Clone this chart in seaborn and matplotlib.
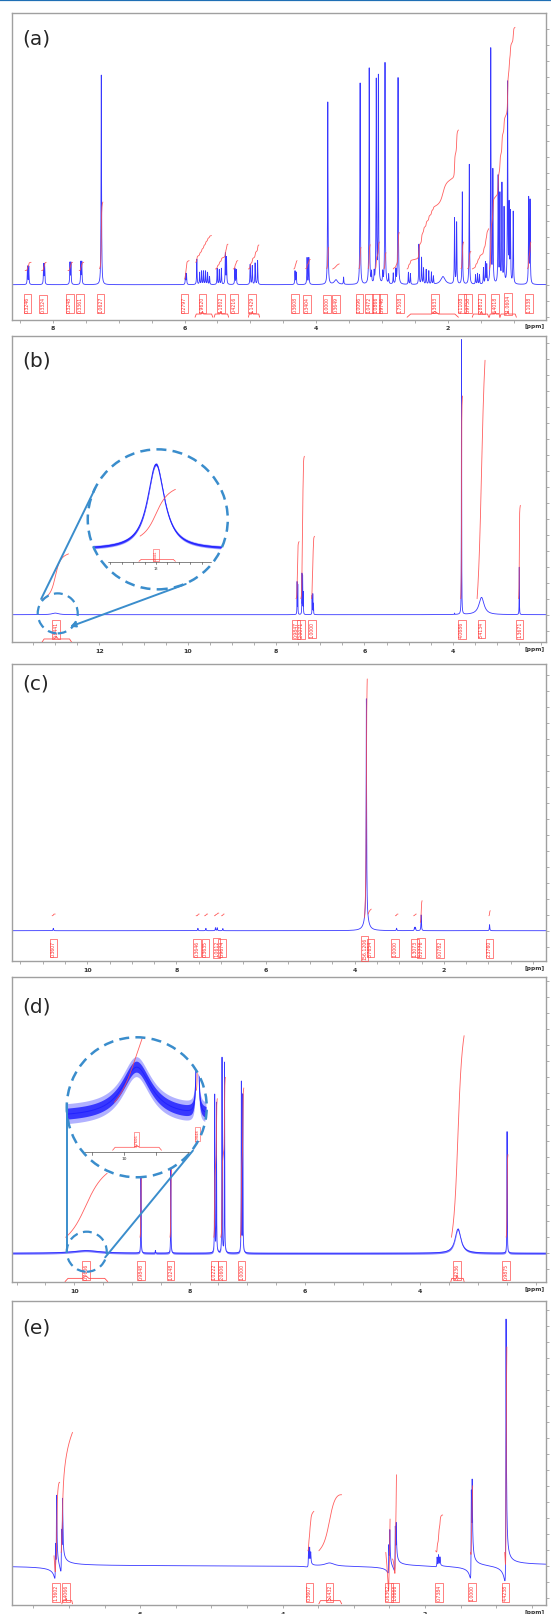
import numpy as np
import matplotlib
matplotlib.use('Agg')
import matplotlib.pyplot as plt
import seaborn as sns
from matplotlib.patches import Circle, Ellipse, FancyArrowPatch
from matplotlib.lines import Line2D
from matplotlib.ticker import FixedLocator, MultipleLocator

# ---------------- data ----------------
# (a)
a_ppm = [8.385, 8.365, 8.140, 8.125, 7.740, 7.725, 7.575, 7.560, 7.264,
         5.985, 5.970, 5.813, 5.770, 5.740, 5.710, 5.680, 5.650, 5.620,
         5.504, 5.472, 5.440, 5.380, 5.362, 5.235, 5.215,
         5.003, 4.971, 4.928, 4.890, 4.322, 4.305, 4.139, 4.112,
         3.824, 3.700, 3.584, 3.333, 3.195, 3.160, 3.120, 3.088, 3.056, 2.990, 2.955, 2.900,
         2.830, 2.790, 2.757, 2.600, 2.570, 2.440, 2.400, 2.370, 2.330, 2.290, 2.250, 2.220, 2.075,
         1.899, 1.867, 1.781, 1.675, 1.580, 1.550, 1.520, 1.460, 1.430, 1.410,
         1.349, 1.317, 1.237, 1.210, 1.179, 1.147, 1.093, 1.070, 1.051, 1.008, 0.773, 0.752]
a_h = [0.068, 0.068, 0.075, 0.075, 0.080, 0.080, 0.083, 0.083, 0.786,
       0.040, 0.040, 0.095, 0.045, 0.050, 0.050, 0.050, 0.045, 0.030,
       0.060, 0.055, 0.060, 0.115, 0.100, 0.060, 0.055,
       0.075, 0.070, 0.080, 0.090, 0.050, 0.045, 0.100, 0.100,
       0.684, 0.018, 0.027, 0.755, 0.810, 0.040, 0.040, 0.760, 0.775, 0.040, 0.830, 0.035,
       0.040, 0.050, 0.775, 0.045, 0.040, 0.150, 0.100, 0.060, 0.055, 0.050, 0.045, 0.030, 0.030,
       0.246, 0.230, 0.346, 0.450, 0.035, 0.040, 0.035, 0.060, 0.080, 0.070,
       0.880, 0.420, 0.400, 0.330, 0.370, 0.280, 0.750, 0.280, 0.260, 0.270, 0.320, 0.310]
a_broad = {3.700: 0.03, 2.075: 0.04}
a_int = [(8.42, 8.33, 0.053, 0.084), (8.17, 8.10, 0.053, 0.084), (7.77, 7.70, 0.053, 0.084),
         (7.60, 7.53, 0.053, 0.084), (7.29, 7.24, 0.06, 0.31), (6.00, 5.93, 0.021, 0.09),
         (5.83, 5.59, 0.084, 0.184), (5.53, 5.34, 0.059, 0.152), (5.26, 5.19, 0.059, 0.09),
         (5.03, 4.87, 0.059, 0.149), (4.34, 4.29, 0.059, 0.09), (4.16, 4.09, 0.06, 0.095),
         (3.84, 3.81, 0.06, 0.14), (3.75, 3.65, 0.059, 0.078), (3.35, 3.32, 0.06, 0.14),
         (3.21, 3.18, 0.06, 0.15), (3.10, 3.04, 0.06, 0.16), (2.97, 2.94, 0.06, 0.12),
         (2.83, 2.74, 0.059, 0.196), (2.62, 1.84, 0.059, 0.58), (1.80, 1.76, 0.06, 0.16),
         (1.70, 1.65, 0.06, 0.125), (1.63, 1.38, 0.059, 0.21), (1.37, 0.98, 0.059, 0.965),
         (0.79, 0.74, 0.06, 0.16)]
a_lab_ppm = [8.384, 8.144, 7.744, 7.584, 7.275, 6.00, 5.728, 5.45, 5.248, 4.97, 4.32, 4.139, 3.84,
             3.70, 3.344, 3.195, 3.088, 2.99, 2.73, 2.197, 1.79, 1.696, 1.49, 1.28, 1.09, 0.77]
a_lab_txt = ['0.3246', '0.3324', '0.3248', '0.3361', '1.0627', '0.2797', '1.9620', '1.1802', '0.4216',
             '1.1429', '0.3608', '0.3404', '1.0000', '0.3649', '1.0096', '1.0472', '1.0866', '0.9746',
             '1.7508', '6.3633', '4.1108', '0.9758', '2.8812', '6.4018', '11.0604', '1.1038']
a_brace = {'1.9620': (5.84, 5.57), '1.1802': (5.55, 5.33), '1.1429': (5.03, 4.86),
           '6.3633': (2.62, 1.84), '2.8812': (1.63, 1.38), '6.4018': (1.37, 1.21),
           '11.0604': (1.21, 0.96)}
a_xticks = [8, 6, 4, 2]

# (b)
b_ppm = [13.00, 7.525, 7.510, 7.415, 7.400, 7.385, 7.185, 7.170, 7.155, 3.960, 3.803, 3.350, 2.495]
b_h = [0.006, 0.120, 0.110, 0.150, 0.140, 0.080, 0.070, 0.075, 0.040, 0.005, 1.030, 0.065, 0.178]
b_broad = {13.00: 0.09, 3.350: 0.07}
b_int = [(13.30, 12.70, 0.059, 0.228), (7.55, 7.48, 0.06, 0.274), (7.44, 7.36, 0.06, 0.594),
         (7.20, 7.13, 0.06, 0.294), (3.82, 3.78, 0.06, 0.82), (3.45, 3.27, 0.06, 0.954),
         (2.51, 2.47, 0.06, 0.41)]
b_lab_ppm = [12.98, 7.55, 7.44, 7.19, 3.80, 3.35, 2.49]
b_lab_txt = ['0.8441', '0.9847', '2.0071', '1.0000', '4.0686', '3.4134', '1.3671']
b_brace = {'0.8441': (13.30, 12.63)}
b_xticks = [12, 10, 8, 6, 4]

# (c)
c_ppm = [10.764, 7.52, 7.34, 7.126, 7.087, 6.96, 3.74, 3.741, 3.063, 2.66, 2.64, 2.51, 0.976]
c_h = [0.009, 0.009, 0.009, 0.011, 0.011, 0.008, 0.81, 0.06, 0.009, 0.012, 0.012, 0.059, 0.0225]
c_broad = {3.741: 0.05}
c_int = [(10.79, 10.72, 0.056, 0.0625), (7.56, 7.49, 0.056, 0.0625), (7.37, 7.30, 0.056, 0.0625),
         (7.15, 7.05, 0.056, 0.066), (6.99, 6.93, 0.056, 0.0625), (3.78, 3.72, 0.05, 0.944),
         (3.70, 3.63, 0.0625, 0.081), (3.09, 3.03, 0.056, 0.0625), (2.68, 2.62, 0.056, 0.0625),
         (2.53, 2.49, 0.031, 0.1125), (0.99, 0.96, 0.056, 0.075)]
c_lab_ppm = [10.76, 7.54, 7.35, 7.10, 6.98, 3.78, 3.65, 3.09, 2.65, 2.52, 2.08, 0.98]
c_lab_txt = ['0.3607', '0.3646', '0.3635', '1.0612', '0.9674', '156.1206', '3.7654', '1.0000',
             '1.3073', '8.2776', '0.0782', '2.3760']
c_xticks = [10, 8, 6, 4, 2]

# (d)
d_ppm = [9.80, 8.844, 8.594, 8.326, 7.565, 7.535, 7.438, 7.395, 7.103, 7.078, 3.347, 2.495]
d_h = [0.010, 0.3225, 0.010, 0.3225, 0.591, 0.560, 0.731, 0.714, 0.6375, 0.589, 0.091, 0.456]
d_broad = {9.80: 0.28, 3.347: 0.06}
d_int = [(10.15, 9.43, 0.06, 0.30), (8.86, 8.83, 0.06, 0.32), (8.34, 8.31, 0.06, 0.32),
         (7.58, 7.52, 0.06, 0.58), (7.46, 7.38, 0.06, 0.66), (7.12, 7.06, 0.06, 0.62),
         (3.46, 3.24, 0.06, 0.816), (2.51, 2.48, 0.06, 0.37)]
d_lab_ppm = [9.80, 8.84, 8.33, 7.57, 7.44, 7.10, 3.36, 2.51]
d_lab_txt = ['0.7606', '0.9848', '1.0248', '1.0222', '2.0606', '1.0000', '3.4236', '0.9875']
d_brace = {'0.7606': (10.16, 9.42), '3.4236': (3.47, 3.24)}
d_xticks = [10, 8, 6, 4]

# (e)
e_ppm = [7.19, 7.175, 7.105, 7.092, 3.635, 3.62, 3.605, 3.34, 2.508, 2.495, 2.418, 2.405,
         1.83, 1.81, 1.79, 1.35, 1.338, 0.862]
e_h = [0.11, 0.22, 0.13, 0.18, 0.07, 0.06, 0.04, 0.012, 0.09, 0.11, 0.14, 0.11,
       0.035, 0.04, 0.03, 0.28, 0.23, 0.86]
e_disp = [0.8, 0.8, 0.8, 0.8, 0.3, 0.3, 0.3, 0.0, 0.7, 0.7, 0.7, 0.7,
          0.3, 0.3, 0.3, 0.65, 0.65, 0.55]
e_broad = {3.34: 0.08}
e_int = [(7.21, 7.13, 0.0375, 0.3125), (7.11, 6.95, 0.05, 0.5), (3.645, 3.56, 0.056, 0.204),
         (3.49, 3.17, 0.056, 0.266), (2.55, 2.49, 0.05, 0.175), (2.46, 2.40, 0.025, 0.341),
         (1.85, 1.75, 0.056, 0.19), (1.36, 1.33, 0.05, 0.3), (0.88, 0.85, 0.05, 0.82)]
e_lab_ppm = [7.18, 7.04, 3.62, 3.34, 2.51, 2.42, 1.80, 1.34, 0.87]
e_lab_txt = ['1.3602', '2.4066', '0.3607', '1.1432', '0.6362', '1.0666', '0.7384', '1.0000', '4.4238']
e_brace = {'2.4066': (7.10, 6.95), '1.1432': (3.49, 3.17)}
e_xticks = [6, 4, 2]

# ---------------- style ----------------
sns.set_style('white')
plt.rcParams['font.family'] = ['DejaVu Sans']

W, H = 551, 1615
BLUE = '#2222ff'
RED = '#ff4d4d'
RING = '#3a8dcc'
FRAME = '#a0a0a0'
UNIT = 266.7          # pixels per intensity unit
LEFT, RIGHT = 12, 546

fig = plt.figure(figsize=(W / 100, H / 100), dpi=100)
fig.add_artist(Line2D([0, 1], [1 - 0.8 / H] * 2, color='#1f6fb5', lw=1.6))


def spectrum(x, ppm, h, broad, disp=None, wdef=0.004):
    y = np.zeros_like(x)
    if disp is None:
        disp = [0.0] * len(ppm)
    for p, a, k in zip(ppm, h, disp):
        g = broad.get(p, wdef)
        u = (x - p) / g
        y += a * (1 - k * u) / (1 + u * u)
    return y


def integral(ax, x, y, p0, p1, y0, y1):
    m = (x <= p0) & (x >= p1)
    xs, ys = x[m], y[m]
    c = np.concatenate([[0.0], np.cumsum(0.5 * (ys[1:] + ys[:-1]))])
    c = c / c[-1]
    ln, = ax.plot(xs, y0 + (y1 - y0) * c, color=RED, lw=0.6, alpha=0.9, zorder=3)
    return ln


def labels(ax, lab_ppm, lab_txt, braces, yl, yb, fs=3.3):
    for p, t in zip(lab_ppm, lab_txt):
        ax.text(p, yl, t, rotation=90, fontsize=fs, color='#ff2a2a', ha='center', va='center',
                bbox=dict(boxstyle='square,pad=0.3', fc='none', ec=RED, lw=0.5), zorder=4)
        if t in braces:
            b0, b1 = braces[t]
            e = (b0 - b1) * 0.07
            ax.plot([b0, b0 - e, p + e, p, p - e, b1 + e, b1],
                    [yb - 0.012, yb, yb, yb + 0.01, yb, yb, yb - 0.012],
                    color=RED, lw=0.6, zorder=4)


def panel(top, bottom, base, xlim, xticks, ppm, h, broad, letter, ly,
          disp=None, wdef=0.004, noise=0.0):
    ax = fig.add_axes([LEFT / W, 1 - bottom / H, (RIGHT - LEFT) / W, (bottom - top) / H])
    x = np.linspace(xlim[0], xlim[1], 40000)
    y = spectrum(x, ppm, h, broad, disp, wdef)
    if noise:
        ax.fill_between(x, y - noise, y + noise, color=BLUE, alpha=0.6, lw=0)
    sns.lineplot(x=x, y=y, ax=ax, color=BLUE, lw=0.6, alpha=0.9, estimator=None, sort=False)
    ax.set_xlim(*xlim)
    ax.set_ylim((base - bottom) / UNIT, (base - top) / UNIT)
    ax.set_xlabel('')
    ax.set_ylabel('')
    for s in ax.spines.values():
        s.set_color(FRAME)
        s.set_linewidth(1.0)
    ax.xaxis.set_major_locator(FixedLocator(xticks))
    ax.xaxis.set_minor_locator(MultipleLocator(0.5))
    ax.tick_params(axis='x', which='both', bottom=True, direction='out', length=2.5, width=0.6,
                   color=FRAME, labelsize=4.5, pad=1.5, labelcolor='#333333')
    ax.yaxis.set_major_locator(MultipleLocator(0.06))
    ax.tick_params(axis='y', which='major', left=False, right=True, labelleft=False,
                   labelright=False, direction='out', length=2, width=0.6, color=FRAME)
    for t in ax.get_xticklabels():
        t.set_fontweight('bold')
    ax.text(0.998, -0.012, '[ppm]', transform=ax.transAxes, ha='right', va='top',
            fontsize=4.2, fontweight='bold', color='#333333')
    ax.text(0.02, ly, letter, transform=ax.transAxes, fontsize=14.5, ha='left', va='center')
    return ax, x, y


def to_fig(ax, px, py):
    return fig.transFigure.inverted().transform(ax.transData.transform((px, py)))


def small_ring(ax, cx, cy, r):
    fx, fy = to_fig(ax, cx, cy)
    fig.add_artist(Ellipse((fx, fy), 2 * r / W, 2 * r / H, transform=fig.transFigure,
                           fill=False, ec=RING, lw=1.6, ls=(0, (4, 2.5))))


def connect(ax, p0, p1, arrow=False):
    f0 = to_fig(ax, *p0)
    f1 = to_fig(ax, *p1)
    if arrow:
        fig.add_artist(FancyArrowPatch(f0, f1, transform=fig.transFigure, arrowstyle='-|>',
                                       mutation_scale=8, color=RING, lw=1.4,
                                       shrinkA=0, shrinkB=0))
    else:
        fig.add_artist(Line2D([f0[0], f1[0]], [f0[1], f1[1]], color=RING, lw=1.4))


def inset(ax, cx, cy, r, xc, s, base_off, top_off, hh, ppm, h, broad, noise_px):
    fx, fy = to_fig(ax, cx, cy)
    iax = fig.add_axes([fx - r / W, fy - r / H, 2 * r / W, 2 * r / H])
    iax.set_axis_off()
    iax.patch.set_alpha(0)
    u = hh / (top_off - base_off)
    xl = (xc + r * s, xc - r * s)
    iax.set_xlim(*xl)
    iax.set_ylim(-(r + base_off) * u, (r - base_off) * u)
    iax.add_patch(Circle((0.5, 0.5), 0.5, transform=iax.transAxes, fc='white', ec='none',
                         zorder=0))
    clip = Circle((0.5, 0.5), 0.5, transform=iax.transAxes)
    xi = np.linspace(xl[0], xl[1], 6000)
    yi = spectrum(xi, ppm, h, broad)
    # noisy trace drawn as a soft outer band and a denser core band
    outer = iax.fill_between(xi, yi - noise_px * u, yi + noise_px * u, color=BLUE, alpha=0.35, lw=0)
    core = iax.fill_between(xi, yi - 0.55 * noise_px * u, yi + 0.55 * noise_px * u, color=BLUE,
                            alpha=0.85, lw=0)
    outer.set_clip_path(clip)
    core.set_clip_path(clip)
    ln, = iax.plot(xi, yi, color=BLUE, lw=0.7)
    ln.set_clip_path(clip)
    iax.add_patch(Circle((0.5, 0.5), 0.5, transform=iax.transAxes, fill=False, ec=RING, lw=1.8,
                         ls=(0, (4, 2.5)), clip_on=False, zorder=6))
    return iax, xi, yi, u, clip


# ---------------- (a) ----------------
ax, x, y = panel(14, 320.5, 285.7, (8.62, 0.51), a_xticks, a_ppm, a_h, a_broad, '(a)', 0.918)
for it in a_int:
    integral(ax, x, y, *it)
labels(ax, a_lab_ppm, a_lab_txt, a_brace, -0.072, -0.11)

# ---------------- (b) ----------------
ax, x, y = panel(337, 643, 615.7, (13.98, 1.89), b_xticks, b_ppm, b_h, b_broad, '(b)', 0.92,
                 wdef=0.003)
for it in b_int:
    integral(ax, x, y, *it)
labels(ax, b_lab_ppm, b_lab_txt, b_brace, -0.054, -0.091)
small_ring(ax, 12.945, 0.005, 20)
iax, xi, yi, u, clip = inset(ax, 10.68, 0.3575, 70, 12.985, 0.00877, -30, 55, 0.006,
                             b_ppm, b_h, b_broad, 1.8)
integral(iax, xi, yi, 13.14, 12.83, 0.156 * 0.006, 0.706 * 0.006).set_clip_path(clip)
iax.plot([13.42, 12.52], [-12.3 * u] * 2, color='#555555', lw=0.5)
for tk in [13.4, 13.3, 13.2, 13.1, 13.0, 12.9, 12.8, 12.7, 12.6]:
    iax.plot([tk, tk], [-12.3 * u, -14.8 * u], color='#555555', lw=0.5)
iax.text(13.0, -17 * u, '13', fontsize=2.6, ha='center', va='top', color='#333333')
iax.plot([13.15, 13.13, 13.0, 12.85, 12.83], [-12 * u, -10 * u, -10 * u, -10 * u, -12 * u],
         color=RED, lw=0.5)
iax.text(13.0, -5.5 * u, '0.8441', rotation=90, fontsize=2.2, color='#ff2a2a', ha='center',
         va='center', bbox=dict(boxstyle='square,pad=0.2', fc='none', ec=RED, lw=0.4))
connect(ax, (13.32, 0.059), (12.095, 0.474))
connect(ax, (10.046, 0.115), (12.667, -0.045), arrow=True)

# ---------------- (c) ----------------
ax, x, y = panel(665, 962, 931.7, (11.69, -0.29), c_xticks, c_ppm, c_h, c_broad, '(c)', 0.935,
                 wdef=0.006)
for it in c_int:
    integral(ax, x, y, *it)
labels(ax, c_lab_ppm, c_lab_txt, {}, -0.065, -0.1)

# ---------------- (d) ----------------
ax, x, y = panel(978, 1283, 1254.3, (11.08, 1.82), d_xticks, d_ppm, d_h, d_broad, '(d)', 0.906,
                 wdef=0.003, noise=0.004)
for it in d_int:
    integral(ax, x, y, *it)
labels(ax, d_lab_ppm, d_lab_txt, d_brace, -0.065, -0.094)
small_ring(ax, 9.784, 0.006, 20)
iax, xi, yi, u, clip = inset(ax, 8.917, 0.5475, 70, 9.80, 0.01574, -10, 40, 0.010,
                             d_ppm, d_h, d_broad, 10)
integral(iax, xi, yi, 10.15, 9.43, 0.3 * 0.010, 2.25 * 0.010).set_clip_path(clip)
integral(iax, xi, yi, 8.86, 8.83, 27 * u, 120 * u).set_clip_path(clip)
iax.plot([10.63, 8.95], [-35 * u] * 2, color='#555555', lw=0.5)
for tk in [10.5, 10.0, 9.5, 9.0]:
    iax.plot([tk, tk], [-35 * u, -38 * u], color='#555555', lw=0.5)
iax.text(10.0, -39 * u, '10', fontsize=3.2, ha='center', va='top', color='#333333')
iax.plot([10.18, 10.14, 9.84, 9.80, 9.76, 9.45, 9.41],
         [-33 * u, -30 * u, -30 * u, -28 * u, -30 * u, -30 * u, -33 * u], color=RED, lw=0.5)
iax.text(9.80, -22 * u, '0.7606', rotation=90, fontsize=2.6, color='#ff2a2a', ha='center',
         va='center', bbox=dict(boxstyle='square,pad=0.2', fc='none', ec=RED, lw=0.4))
t = iax.text(8.84, -17 * u, '0.9848', rotation=90, fontsize=2.6, color='#ff2a2a', ha='center',
             va='center', bbox=dict(boxstyle='square,pad=0.2', fc='none', ec=RED, lw=0.4))
t.set_clip_path(clip)
connect(ax, (10.12, 0.004), (10.12, 0.554))
connect(ax, (9.464, -0.015), (7.943, 0.385))

# ---------------- (e) ----------------
ax, x, y = panel(1302, 1606, 1566.7, (7.80, 0.30), e_xticks, e_ppm, e_h, e_broad, '(e)', 0.913,
                 disp=e_disp, wdef=0.004)
for it in e_int:
    integral(ax, x, y, *it)
labels(ax, e_lab_ppm, e_lab_txt, e_brace, -0.099, -0.131)

fig.savefig('out.png', dpi=100)
